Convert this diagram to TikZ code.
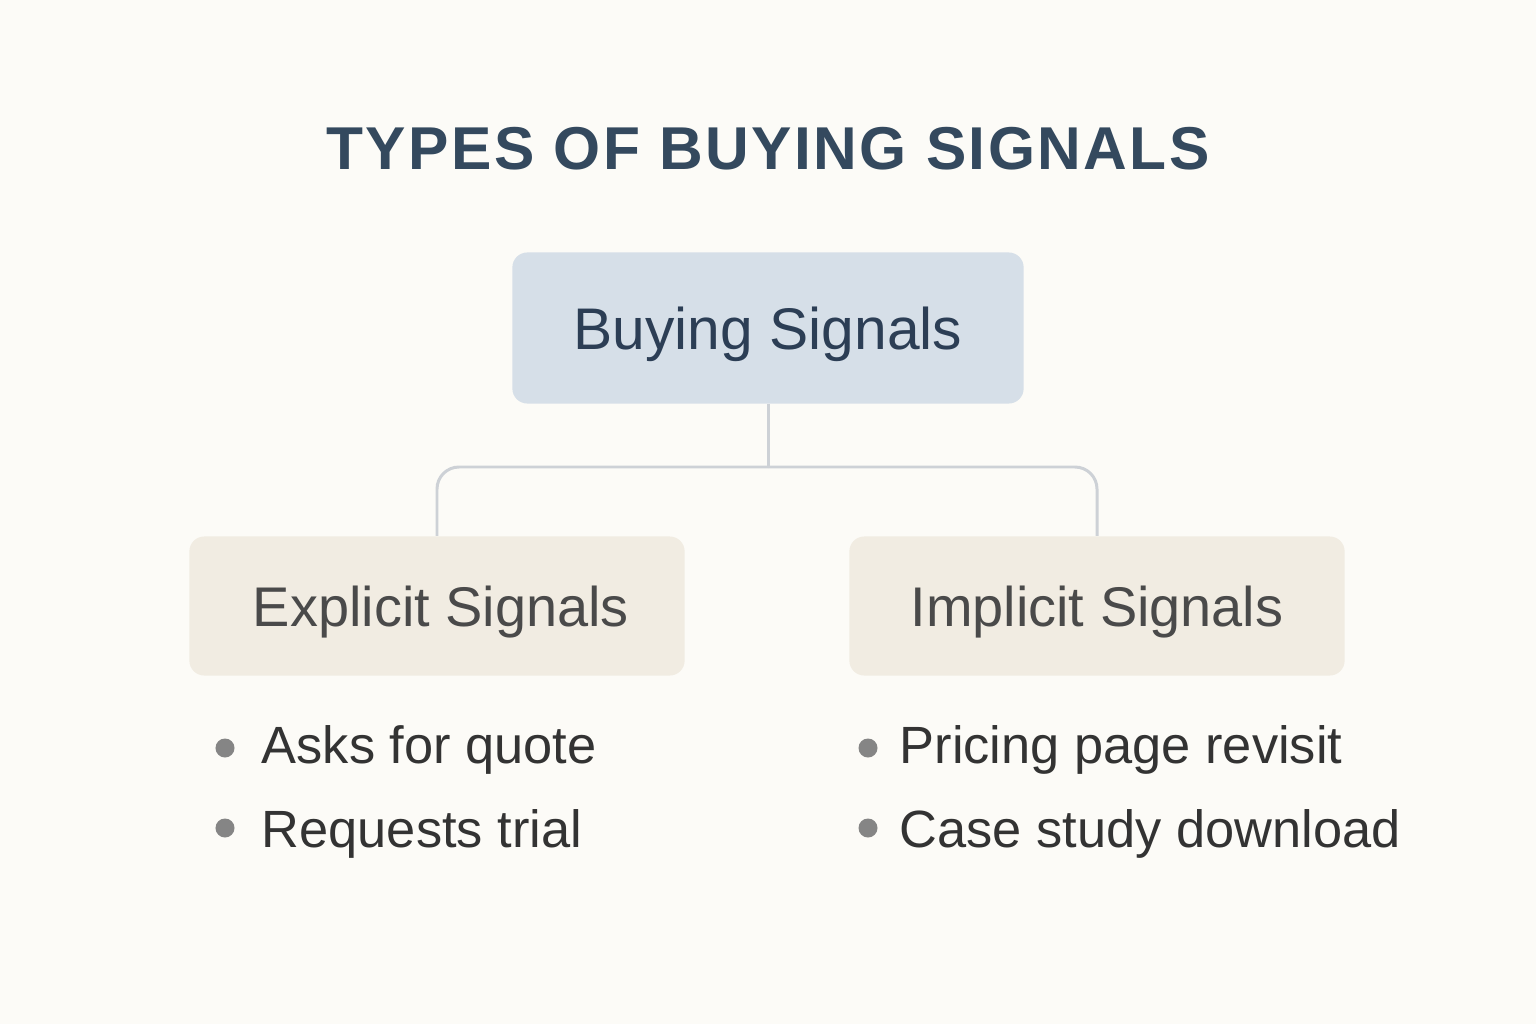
\documentclass[tikz,border=0pt]{standalone}
\usepackage{fontspec}
\setmainfont{Liberation Sans}
\usepackage{xcolor}
\usetikzlibrary{positioning}
\definecolor{bgcream}{HTML}{FCFBF7}
\definecolor{titleblue}{HTML}{34495E}
\definecolor{rootfill}{HTML}{D6DFE8}
\definecolor{rootink}{HTML}{2C3E55}
\definecolor{kidfill}{HTML}{F1ECE2}
\definecolor{kidink}{HTML}{4A4A4A}
\definecolor{linkgray}{HTML}{CDD1D6}
\definecolor{dotgray}{HTML}{858585}
\definecolor{itemink}{HTML}{333333}
\tikzset{
  rootbox/.style={fill=rootfill, rounded corners=0.15cm, minimum width=5.11cm, minimum height=1.51cm,
    text=rootink, font=\fontsize{16.7}{20}\selectfont, text height=0.42cm, text depth=0pt},
  kidbox/.style={fill=kidfill, rounded corners=0.15cm, minimum width=4.95cm, minimum height=1.39cm,
    text=kidink, font=\fontsize{15.9}{19}\selectfont, text height=0.40cm, text depth=0pt},
  link/.style={draw=linkgray, line width=0.85pt},
  dot/.style={circle, fill=dotgray, inner sep=0pt, minimum size=0.19cm},
  item/.style={anchor=base west, inner sep=0pt, text=itemink, font=\fontsize{14.9}{18}\selectfont}
}
\begin{document}
\begin{tikzpicture}[x=0.01cm, y=-0.01cm]
\fill[bgcream] (0,0) rectangle (1536,1024);
\useasboundingbox (0,0) rectangle (1536,1024);
% title
\node[anchor=base, inner sep=0pt, text=titleblue,
  font=\fontsize{17.2}{21}\selectfont\bfseries\addfontfeature{LetterSpace=4}] (title) at (768,169) {TYPES OF BUYING SIGNALS};
% boxes
\node[rootbox] (root) at (768,328) {Buying Signals};
\node[kidbox] (expl) at (437,606) {\hspace*{0.08cm}Explicit Signals};
\node[kidbox] (impl) at (1097,606) {Implicit Signals};
% connectors
\coordinate (junc) at (768,467);
\draw[link] (root.south) -- (junc);
\draw[link, rounded corners=0.22cm] (junc) -| (expl.north);
\draw[link, rounded corners=0.22cm] (junc) -| (impl.north);
% bullet lists
\node[dot] (d1) at (225,748) {};
\node[dot] (d2) at (225,828) {};
\node[dot] (d3) at (868,748) {};
\node[dot] (d4) at (868,828) {};
\node[item] (e1) at (261,763) {Asks for quote};
\node[item] (e2) at (261,847) {Requests trial};
\node[item] (i1) at (899,763) {Pricing page revisit};
\node[item] (i2) at (899,847) {Case study download};
\end{tikzpicture}
\end{document}
